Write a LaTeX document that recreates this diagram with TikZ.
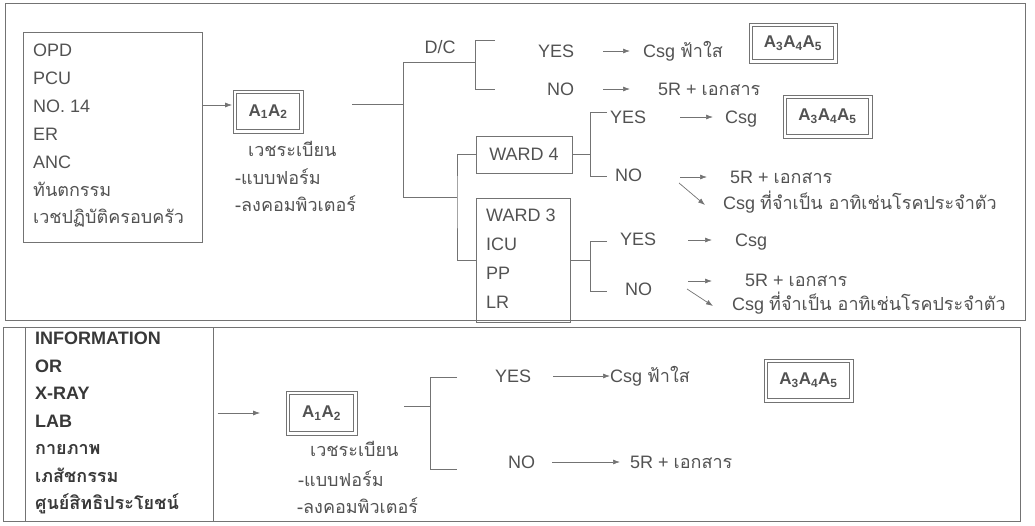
\documentclass[tikz,border=0pt]{standalone}
\usepackage{fontspec}
\setmainfont{Liberation Sans}
\newfontfamily\thaif[Script=Thai]{Loma}
\usetikzlibrary{arrows.meta}
\definecolor{ink}{gray}{0.32}
\definecolor{rule}{gray}{0.45}
\tikzset{
  lbl/.style={anchor=west, inner sep=0pt, text height=13pt, text depth=0pt, text=ink, font=\fontsize{18}{22}\selectfont},
  tlbl/.style={lbl, font=\thaif\fontsize{18}{22}\selectfont},
  mid/.style={lbl, anchor=center},
  frame/.style={draw=rule, line width=0.8pt},
  panel/.style={draw=rule, line width=0.6pt, inner sep=0pt, text=ink, font=\fontsize{18}{22}\selectfont},
  abox/.style={draw=rule, line width=0.8pt, inner sep=0pt, text=ink, font=\bfseries\fontsize{17}{20}\selectfont,
    append after command={\pgfextra{\draw[draw=rule, line width=0.8pt]
      ([shift={(-3pt,3pt)}]\tikzlastnode.north west) rectangle ([shift={(3pt,-3pt)}]\tikzlastnode.south east);}}},
  wire/.style={draw=rule, line width=0.7pt},
  arr/.style={wire, -{Latex[length=7pt,width=5pt]}},
}
\newcommand\aaa{A\textsubscript{1}A\textsubscript{2}}
\newcommand\aaaa{A\textsubscript{3}A\textsubscript{4}A\textsubscript{5}}
\begin{document}
\begin{tikzpicture}[x=1pt, y=-1pt]
  \useasboundingbox (0,0) rectangle (1035,525);

  % upper panel
  \draw[frame] (5,3) rectangle (1025,320);
  \node[panel, anchor=north west, minimum width=179pt, minimum height=210pt] (srcA) at (23,32) {};
  \foreach \t [count=\i from 0] in {OPD, PCU, NO. 14, ER, ANC, {\thaif ทันตกรรม}, {\thaif เวชปฏิบัติครอบครัว}}
    \node[lbl] (srcA-\i) at (33,{50+27.9*\i}) {\t};

  \node[abox, minimum width=63pt, minimum height=36pt] (aA) at (268,111.5) {\aaa};
  \draw[arr] (srcA.east |- 0,105) -- ([xshift=-4pt]aA.west |- 0,105);
  \node[tlbl] (regA) at (248,150) {เวชระเบียน};
  \node[tlbl] (formA) at (235,178) {-แบบฟอร์ม};
  \node[tlbl] (compA) at (235,205) {-ลงคอมพิวเตอร์};

  \coordinate (stemA) at (352,104);
  \coordinate (forkA) at (403,104);
  \coordinate (forkAt) at (403,62);
  \coordinate (forkAb) at (403,197);
  \draw[wire] (stemA) -- (forkA);
  \draw[wire] (forkAt) -- (forkAb);

  % D/C
  \node[mid] (dc) at (440,47) {D/C};
  \coordinate (dcJ) at (475,62);
  \draw[wire] (forkAt) -- (dcJ);
  \draw[wire] (495,40) -- (475,40) -- (475,89) -- (495,89);
  \node[lbl] (dcY) at (538,51) {YES};
  \node[lbl] (dcN) at (547,89) {NO};
  \node[lbl] (dcYt) at (643,51) {Csg {\thaif ฟ้าใส}};
  \node[lbl] (dcNt) at (658,89) {5R + {\thaif เอกสาร}};
  \draw[arr] ([xshift=-40pt]dcYt.west) -- ([xshift=-13pt]dcYt.west);
  \draw[arr] ([xshift=-55pt]dcNt.west) -- ([xshift=-28pt]dcNt.west);
  \node[abox, minimum width=81pt, minimum height=33pt] (bA1) at (793,43) {\aaaa};

  % wards
  \coordinate (wJ) at (457,197);
  \draw[wire] (forkAb) -- (wJ);
  \node[panel, minimum width=96pt, minimum height=37pt] (w4) at (524,154.5) {WARD 4};
  \node[panel, anchor=north west, minimum width=94pt, minimum height=124pt] (w3) at (476,198) {};
  \foreach \t [count=\i from 0] in {WARD 3, ICU, PP, LR}
    \node[lbl] (w3-\i) at (486,{215+29*\i}) {\t};
  \draw[wire] (w4.west) -| (wJ) |- (w3.west);

  % ward 4
  \draw[wire] (w4.east) -- ++(18,0);
  \draw[wire] (607,112) -- (590,112) -- (590,176) -- (607,176);
  \node[lbl] (w4Y) at (610,117) {YES};
  \node[lbl] (w4N) at (615,175) {NO};
  \node[lbl] (w4Yt) at (725,117) {Csg};
  \node[abox, minimum width=82pt, minimum height=36pt] (bA2) at (827.5,116.5) {\aaaa};
  \node[lbl] (w4Nt) at (730,177) {5R + {\thaif เอกสาร}};
  \node[lbl] (w4Nx) at (723,203) {Csg {\thaif ที่จำเป็น อาทิเช่นโรคประจำตัว}};
  \draw[arr] ([xshift=-45pt]w4Yt.west) -- ([xshift=-12pt]w4Yt.west);
  \draw[arr] ([xshift=-50pt]w4Nt.west) -- ([xshift=-23pt]w4Nt.west);
  \draw[arr] ([xshift=-44pt,yshift=20pt]w4Nx.west) -- ([xshift=-18pt,yshift=-2pt]w4Nx.west);

  % ward 3
  \draw[wire] (w3.east) -- ++(20,0);
  \draw[wire] (607,241) -- (590,241) -- (590,291) -- (607,291);
  \node[lbl] (w3Y) at (620,239) {YES};
  \node[lbl] (w3N) at (625,289) {NO};
  \node[lbl] (w3Yt) at (735,240) {Csg};
  \node[lbl] (w3Nt) at (745,280) {5R + {\thaif เอกสาร}};
  \node[lbl] (w3Nx) at (732,304) {Csg {\thaif ที่จำเป็น อาทิเช่นโรคประจำตัว}};
  \draw[arr] ([xshift=-47pt]w3Yt.west) -- ([xshift=-23pt]w3Yt.west);
  \draw[arr] ([xshift=-57pt,yshift=-1pt]w3Nt.west) -- ([xshift=-33pt,yshift=-1pt]w3Nt.west);
  \draw[arr] ([xshift=-45pt,yshift=15pt]w3Nx.west) -- ([xshift=-19pt,yshift=-2pt]w3Nx.west);

  % lower panel
  \draw[frame] (3,327) rectangle (1020,521);
  \node[panel, anchor=north west, minimum width=188pt, minimum height=194pt] (srcB) at (25,327) {};
  \foreach \t [count=\i from 0] in {INFORMATION, OR, X-RAY, LAB, {\thaif กายภาพ}, {\thaif เภสัชกรรม}, {\thaif ศูนย์สิทธิประโยชน์}}
    \node[lbl, text=black!78, font=\bfseries\fontsize{18}{22}\selectfont] (srcB-\i) at (35,{338+27.5*\i}) {\t};

  \node[abox, minimum width=64pt, minimum height=37pt] (aB) at (321.5,413) {\aaa};
  \draw[arr] ([xshift=4pt]srcB.east |- aB.west) -- ([xshift=-29pt]aB.west);
  \node[tlbl] (regB) at (310,450) {เวชระเบียน};
  \node[tlbl] (formB) at (298,480) {-แบบฟอร์ม};
  \node[tlbl] (compB) at (297,507) {-ลงคอมพิวเตอร์};

  \draw[wire] (404,406) -- (430,406);
  \draw[wire] (457,377) -- (430,377) -- (430,469) -- (457,469);
  \node[lbl] (bY) at (495,376) {YES};
  \node[lbl] (bN) at (508,462) {NO};
  \node[lbl] (bYt) at (610,376) {Csg {\thaif ฟ้าใส}};
  \node[lbl] (bNt) at (630,462) {5R + {\thaif เอกสาร}};
  \draw[arr] ([xshift=-57pt]bYt.west) -- (bYt.west);
  \draw[arr] ([xshift=-78pt]bNt.west) -- ([xshift=-10pt]bNt.west);
  \node[abox, minimum width=82pt, minimum height=36pt] (bA3) at (808.5,380.5) {\aaaa};
\end{tikzpicture}
\end{document}
